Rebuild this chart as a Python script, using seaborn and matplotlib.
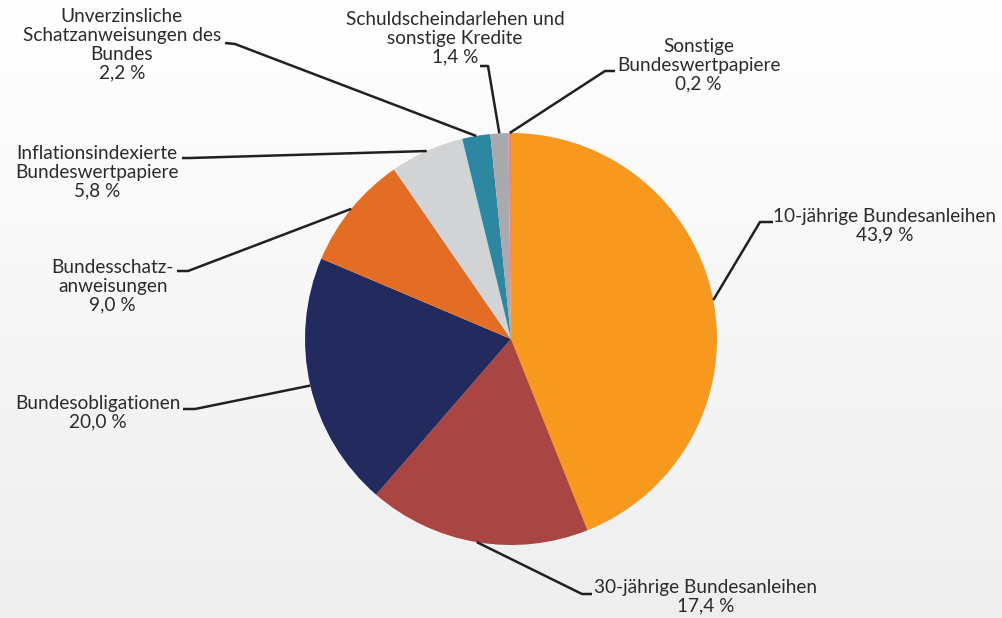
import numpy as np
import matplotlib
matplotlib.use("Agg")
import matplotlib.pyplot as plt
import seaborn as sns

# Data: share of federal securities (percent)
labels = [
    "10-jährige Bundesanleihen",
    "30-jährige Bundesanleihen",
    "Bundesobligationen",
    "Bundesschatz-\nanweisungen",
    "Inflationsindexierte\nBundeswertpapiere",
    "Unverzinsliche\nSchatzanweisungen des\nBundes",
    "Schuldscheindarlehen und\nsonstige Kredite",
    "Sonstige\nBundeswertpapiere",
]
values = [43.9, 17.4, 20.0, 9.0, 5.8, 2.2, 1.4, 0.2]
colors = ["#F7981F", "#A94543", "#232A5E", "#E36D25",
          "#D2D3D5", "#2E87A0", "#A8AAAD", "#E8877F"]

sns.set_theme(style="white")
plt.rcParams["font.family"] = ["Lato", "DejaVu Sans"]

W, H = 1003, 618
fig = plt.figure(figsize=(W / 100, H / 100), dpi=100)
ax = fig.add_axes([0, 0, 1, 1])

# soft background gradient (white at top, light grey at bottom)
grad = np.linspace(1.0, 0.935, 256).reshape(-1, 1)
ax.imshow(np.dstack([grad, grad, grad]), extent=[0, W, 0, H], aspect="auto", zorder=0)


def py(y):
    # image pixel row -> data y
    return H - y


cx, cy, r = 511, py(339), 206
wedges, _ = ax.pie(values, colors=colors, startangle=90, counterclock=False,
                   center=(cx, cy), radius=r, frame=True,
                   wedgeprops=dict(linewidth=0))
ax.set_xlim(0, W)
ax.set_ylim(0, H)
ax.axis("off")

# label layout: elbow point, end of horizontal tick, text anchor, alignment
layout = [
    ((760, 222), (773, 222), (773, 208), "left"),
    ((582, 594), (592, 594), (594, 579), "left"),
    ((195, 409), (183, 409), (181, 395), "right"),
    ((188, 271), (177, 271), (174, 259), "right"),
    ((190, 158), (182, 158), (179, 145), "right"),
    ((235, 44), (225, 43), (221, 8), "right"),
    ((488, 66), (480, 66), (455, 11), "center"),
    ((605, 71), (615, 71), (617, 38), "left"),
]

for w, lab, val, (elbow, end, txt, ha) in zip(wedges, labels, values, layout):
    ang = np.deg2rad((w.theta1 + w.theta2) / 2)
    sx, sy = cx + r * np.cos(ang), cy + r * np.sin(ang)
    ax.plot([sx, elbow[0], end[0]], [sy, py(elbow[1]), py(end[1])],
            color="#231F20", lw=1.8, solid_capstyle="butt", zorder=3)
    pct = f"{val:.1f}".replace(".", ",") + " %"
    ax.text(txt[0], py(txt[1]), lab + "\n" + pct, ha=ha, va="top",
            multialignment="center", fontsize=13.7, color="#2B2B2B",
            linespacing=1.13, zorder=4)

fig.savefig("out.png", dpi=100)
